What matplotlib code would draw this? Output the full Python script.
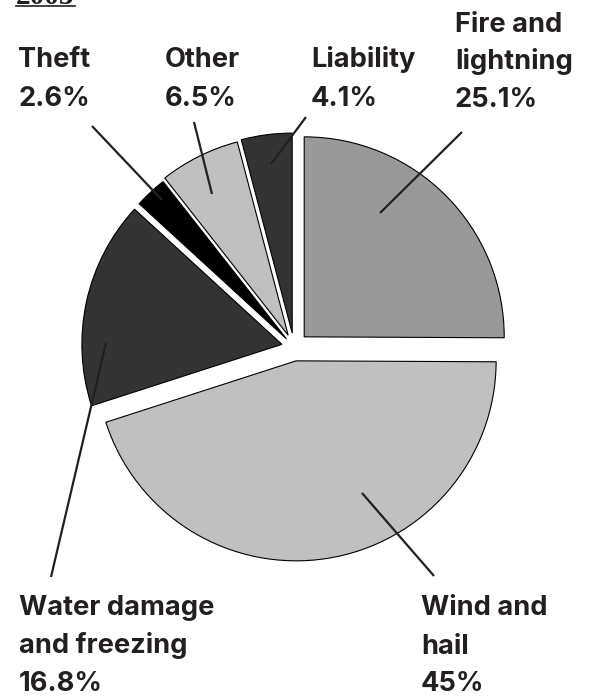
import matplotlib
matplotlib.use("Agg")
import matplotlib.pyplot as plt

# ====== Data ====== #
CATEGORIES = ["Fire and lightning", "Wind and hail", "Water damage and freezing",
              "Theft", "Other", "Liability"]
SHARES = [25.1, 45.0, 16.8, 2.6, 6.5, 4.1]
SHARE_LABELS = ["25.1%", "45%", "16.8%", "2.6%", "6.5%", "4.1%"]
COLORS = ["#999999", "#c0c0c0", "#333333", "#000000", "#c0c0c0", "#333333"]
EXPLODE = [0.072, 0.07, 0.062, 0.055, 0.065, 0.07]
TITLE = "2003"

# ====== Layout (pixels, y measured from top) ====== #
W, H = 590, 696
CENTER = (294, 347)
RADIUS = 200
TEXT_COLOR = "#231f20"
FONT = "Inter"
FONT_SIZE = 19.6

# label lines: (text lines, x, baselines)
LABELS = [
    (["Fire and", "lightning", SHARE_LABELS[0]], 455, [32, 69, 107]),
    (["Wind and", "hail", SHARE_LABELS[1]], 421, [615, 654, 691]),
    (["Water damage", "and freezing", SHARE_LABELS[2]], 19, [615, 653, 691]),
    (["Theft", SHARE_LABELS[3]], 18, [67, 106]),
    (["Other", SHARE_LABELS[4]], 165, [67, 106]),
    (["Liability", SHARE_LABELS[5]], 311, [67, 106]),
]
LEADERS = [
    ((462, 132), (380, 213)),
    ((362, 493), (434, 576)),
    ((106, 343), (51, 577)),
    ((92, 126), (162, 200)),
    ((194, 122), (212, 194)),
    ((306, 117), (271, 164)),
]


def py(y):
    return H - y


fig = plt.figure(figsize=(W / 100, H / 100), dpi=100)
ax = fig.add_axes([0, 0, 1, 1])

# explode is in data units here, so scale the fractions by the radius
ax.pie(SHARES, colors=COLORS, explode=[e * RADIUS for e in EXPLODE],
       startangle=90, counterclock=False,
       radius=RADIUS, center=(CENTER[0], py(CENTER[1])),
       wedgeprops=dict(edgecolor="black", linewidth=0.8))

ax.set_xlim(0, W)
ax.set_ylim(0, H)
ax.set_aspect("equal")
ax.axis("off")

for (x0, y0), (x1, y1) in LEADERS:
    ax.plot([x0, x1], [py(y0), py(y1)], color=TEXT_COLOR, lw=1.6,
            solid_capstyle="butt")

for lines, x, baselines in LABELS:
    for line, b in zip(lines, baselines):
        ax.text(x, py(b), line, ha="left", va="baseline", fontsize=FONT_SIZE,
                fontfamily=FONT, fontweight="bold", color=TEXT_COLOR)

# title, mostly cut off at the top edge
ax.text(16, py(3.5), TITLE, ha="left", va="baseline", fontsize=21,
        fontfamily="Liberation Serif", fontweight="bold", color=TEXT_COLOR)
ax.plot([16, 75], [py(5.5), py(5.5)], color=TEXT_COLOR, lw=1.2)

fig.savefig("out.png", dpi=100)
